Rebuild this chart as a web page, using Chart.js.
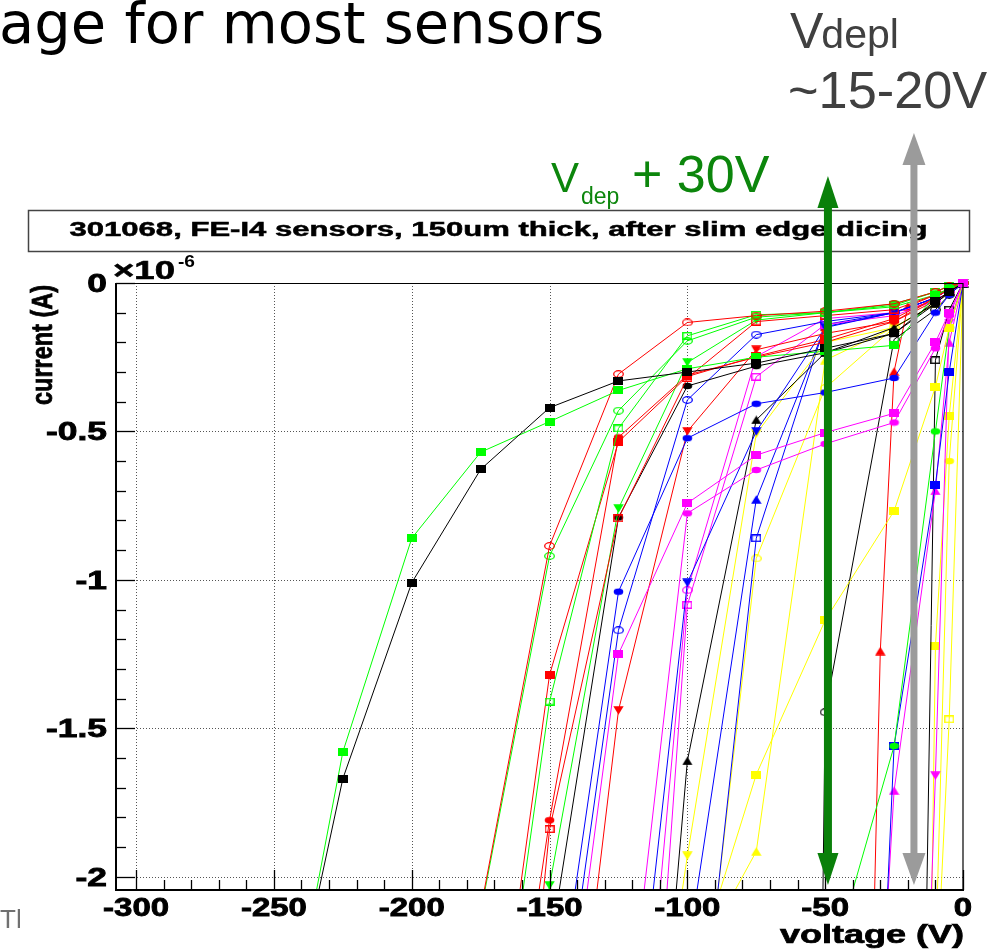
<!DOCTYPE html>
<html>
<head>
<meta charset="utf-8">
<title>301068 FE-I4 sensors IV curves</title>
<script src="https://cdn.jsdelivr.net/npm/chart.js@4/dist/chart.umd.min.js"></script>
<style>
  html, body { margin: 0; padding: 0; background: #ffffff; overflow: hidden; }
  canvas { display: block; }
</style>
</head>
<body>
<canvas id="c" width="988" height="951"></canvas>
<script>
// ---- Axis ranges and tick labels ----
const X_MIN = -307.3, X_MAX = 0;
const Y_MIN = -2.045, Y_MAX = 0;
const xTickValues = [-300, -250, -200, -150, -100, -50, 0];
const xTickLabels = ['-300', '-250', '-200', '-150', '-100', '-50', '0'];
const yTickValues = [0, -0.5, -1, -1.5, -2];
const yTickLabels = ['0', '-0.5', '-1', '-1.5', '-2'];

// ---- Bias voltages (V) ----
const vSteps = [0, -5, -10, -25, -50, -75, -100, -125, -150, -175, -200, -225, -250];
const vRedTriUp = [0, -5, -10, -20, -25, -30, -35];
const vShort = [0, -5, -10, -25, -30];
const vLate = [0, -5, -10, -15];

// ---- Leakage currents (units of 1e-6 A), one list per sensor ----
const iBlackSq          = [0, -0.03, -0.06, -0.17, -0.22, -0.27, -0.30, -0.33, -0.42, -0.628, -1.01, -1.67, -2.75];
const iGreenSq          = [0, -0.02, -0.04, -0.21, -0.23, -0.25, -0.289, -0.362, -0.467, -0.57, -0.86, -1.58, -2.8];
const iRedOpenCircle    = [0, -0.01, -0.03, -0.07, -0.095, -0.11, -0.133, -0.307, -0.886, -2.11];
const iGreenOpenCircle  = [0, -0.01, -0.03, -0.07, -0.10, -0.115, -0.195, -0.43, -0.92, -2.12];
const iGreenOpenSq      = [0, -0.01, -0.03, -0.075, -0.10, -0.107, -0.178, -0.49, -1.41, -3.06];
const iRedSq            = [0, -0.02, -0.05, -0.12, -0.19, -0.247, -0.315, -0.535, -1.32, -3.01];
const iRedCircle        = [0, -0.02, -0.05, -0.13, -0.20, -0.25, -0.31, -0.52, -1.81, -3.36];
const iRedOpenSq        = [0, -0.02, -0.04, -0.09, -0.11, -0.13, -0.32, -0.793, -1.84, -4.2];
const iGreenTriDown     = [0, -0.02, -0.04, -0.08, -0.10, -0.125, -0.268, -0.76, -2.03, -3.5];
const iBlackCircle      = [0, -0.03, -0.07, -0.17, -0.235, -0.28, -0.347, -0.79, -2.25, -3.5];
const iBlueCircle       = [0, -0.04, -0.10, -0.32, -0.369, -0.407, -0.523, -1.04, -2.64];
const iBlueOpenCircle   = [0, -0.02, -0.05, -0.10, -0.13, -0.174, -0.394, -1.17, -2.83];
const iMagentaSq        = [0, -0.10, -0.20, -0.439, -0.504, -0.58, -0.742, -1.25, -3.0];
const iMagentaCircle    = [0, -0.11, -0.22, -0.47, -0.542, -0.63, -0.776, -2.8];
const iRedTriDown       = [0, -0.03, -0.06, -0.13, -0.17, -0.225, -0.50, -1.44, -3.38];
const iBlueTriDown      = [0, -0.02, -0.05, -0.10, -0.15, -0.50, -1.01, -3.1];
const iMagentaOpenCircle= [0, -0.03, -0.06, -0.10, -0.12, -0.248, -1.035, -3.58];
const iMagentaOpenSq    = [0, -0.03, -0.06, -0.11, -0.14, -0.316, -1.085, -4.33];
const iBlackTriUp       = [0, -0.03, -0.07, -0.15, -0.235, -0.461, -1.61, -4.3];
const iYellowTriDown    = [0, -0.03, -0.07, -0.15, -0.20, -0.508, -1.93, -3.5];
const iBlueTriUp        = [0, -0.02, -0.05, -0.10, -0.147, -0.729, -2.26];
const iBlueOpenSq       = [0, -0.02, -0.05, -0.10, -0.14, -0.86, -2.99];
const iYellowOpenCircle = [0, -0.03, -0.07, -0.15, -0.354, -0.928, -2.94];
const iYellowSq         = [0, -0.15, -0.35, -0.768, -1.136, -1.656, -2.4];
const iYellowTriUp      = [0, -0.03, -0.07, -0.15, -0.26, -1.915, -2.34];
const iBlackOpenCircle  = [0, -0.04, -0.09, -0.19, -1.446, -20];
const iGreenCircle      = [0, -0.15, -0.50, -1.56, -2.37];
const iRedTriUp         = [0, -0.02, -0.04, -0.079, -0.298, -1.24, -3.2];
const iBlueSq           = [0, -0.30, -0.68, -1.56, -2.6];
const iMagentaTriUp     = [0, -0.20, -0.70, -1.71, -2.5];
const iBlackOpenSq      = [0, -0.09, -0.26, -3.14];
const iMagentaTriDown   = [0, -0.135, -1.66, -3.0];
const iYellowSqLate     = [0, -0.448, -1.224, -4.5];
const iYellowOpenSq     = [0, -1.47, -2.45];
const iYellowCircle     = [0, -0.60, -2.30];

// Voltages marked by the two arrows
const vDepPlus30 = -49;
const vDepl = -17.8;

const BLACK = '#000000', RED = '#ff0000', GREEN = '#00ff00', BLUE = '#0000ff', YELLOW = '#ffff00', MAGENTA = '#ff00ff';

// [voltages, currents, colour, marker shape, filled]; first entry is drawn on top
const seriesList = [
  [vSteps, iMagentaSq, MAGENTA, 'square', true],
  [vSteps, iBlackSq, BLACK, 'square', true],
  [vSteps, iGreenSq, GREEN, 'square', true],
  [vSteps, iRedOpenCircle, RED, 'circle', false],
  [vSteps, iGreenOpenCircle, GREEN, 'circle', false],
  [vSteps, iGreenOpenSq, GREEN, 'square', false],
  [vSteps, iRedSq, RED, 'square', true],
  [vSteps, iRedCircle, RED, 'circle', true],
  [vSteps, iRedOpenSq, RED, 'square', false],
  [vSteps, iGreenTriDown, GREEN, 'down', true],
  [vSteps, iBlackCircle, BLACK, 'circle', true],
  [vSteps, iBlueCircle, BLUE, 'circle', true],
  [vSteps, iBlueOpenCircle, BLUE, 'circle', false],
  [vSteps, iMagentaCircle, MAGENTA, 'circle', true],
  [vSteps, iRedTriDown, RED, 'down', true],
  [vSteps, iBlueTriDown, BLUE, 'down', true],
  [vSteps, iMagentaOpenCircle, MAGENTA, 'circle', false],
  [vSteps, iMagentaOpenSq, MAGENTA, 'square', false],
  [vSteps, iBlackTriUp, BLACK, 'up', true],
  [vSteps, iYellowTriDown, YELLOW, 'down', true],
  [vSteps, iBlueTriUp, BLUE, 'up', true],
  [vSteps, iBlueOpenSq, BLUE, 'square', false],
  [vSteps, iYellowOpenCircle, YELLOW, 'circle', false],
  [vSteps, iYellowSq, YELLOW, 'square', true],
  [vSteps, iYellowTriUp, YELLOW, 'up', true],
  [vSteps, iBlackOpenCircle, BLACK, 'circle', false],
  [vSteps, iGreenCircle, GREEN, 'circle', true],
  [vRedTriUp, iRedTriUp, RED, 'up', true],
  [vShort, iBlueSq, BLUE, 'square', true],
  [vShort, iMagentaTriUp, MAGENTA, 'up', true],
  [vLate, iBlackOpenSq, BLACK, 'square', false],
  [vLate, iMagentaTriDown, MAGENTA, 'down', true],
  [vLate, iYellowSqLate, YELLOW, 'square', true],
  [vLate, iYellowOpenSq, YELLOW, 'square', false],
  [vLate, iYellowCircle, YELLOW, 'circle', true]
];

// Small marker bitmaps (slightly wider than tall)
function makeMarker(shape, color, filled) {
  const dims = { square: [10, 8], circle: [11, 8], up: [11, 9], down: [11, 9] }[shape];
  const w = dims[0], h = dims[1];
  const c = document.createElement('canvas');
  c.width = w; c.height = h;
  const g = c.getContext('2d');
  g.fillStyle = color; g.strokeStyle = color; g.lineWidth = 1.3;
  g.beginPath();
  if (shape === 'square') {
    if (filled) g.rect(0, 0, w, h); else g.rect(0.75, 0.75, w - 1.5, h - 1.5);
  } else if (shape === 'circle') {
    g.ellipse(w / 2, h / 2, w / 2 - 0.7, h / 2 - 0.7, 0, 0, Math.PI * 2);
  } else if (shape === 'up') {
    g.moveTo(w / 2, 0.3); g.lineTo(w - 0.3, h - 0.3); g.lineTo(0.3, h - 0.3); g.closePath();
  } else {
    g.moveTo(0.3, 0.3); g.lineTo(w - 0.3, 0.3); g.lineTo(w / 2, h - 0.3); g.closePath();
  }
  if (filled) g.fill(); else g.stroke();
  return c;
}

const datasets = seriesList.map(([v, cur, color, shape, filled]) => ({
  data: cur.map((val, k) => ({ x: v[k], y: val })),
  showLine: true,
  borderColor: color,
  backgroundColor: color,
  borderWidth: 1,
  tension: 0,
  pointStyle: makeMarker(shape, color, filled),
  pointRadius: 5,
  pointHoverRadius: 5,
  clip: { left: 12, top: 12, right: 12, bottom: 0 }
}));

// Text drawn with a horizontal stretch so that it spans a given width
function fitText(ctx, str, x, y, font, width, align, heavy) {
  ctx.save();
  ctx.font = font;
  const natural = ctx.measureText(str).width;
  const sx = width / natural;
  let x0 = x;
  if (align === 'center') x0 = x - width / 2;
  else if (align === 'right') x0 = x - width;
  ctx.translate(x0, y);
  ctx.scale(sx, 1);
  ctx.textAlign = 'left';
  ctx.textBaseline = 'alphabetic';
  ctx.fillText(str, 0, 0);
  if (heavy) { ctx.lineWidth = heavy; ctx.strokeStyle = ctx.fillStyle; ctx.strokeText(str, 0, 0); }
  ctx.restore();
}

function stretchedText(ctx, str, x, y, font, sx, align, heavy) {
  ctx.save();
  ctx.font = font;
  const w = ctx.measureText(str).width * sx;
  let x0 = x;
  if (align === 'center') x0 = x - w / 2;
  else if (align === 'right') x0 = x - w;
  ctx.translate(x0, y);
  ctx.scale(sx, 1);
  ctx.textAlign = 'left';
  ctx.textBaseline = 'alphabetic';
  ctx.fillText(str, 0, 0);
  if (heavy) { ctx.lineWidth = heavy; ctx.strokeStyle = ctx.fillStyle; ctx.strokeText(str, 0, 0); }
  ctx.restore();
}

function seg(ctx, x1, y1, x2, y2) {
  ctx.beginPath(); ctx.moveTo(x1, y1); ctx.lineTo(x2, y2); ctx.stroke();
}

function doubleArrow(ctx, cx, tipTop, tipBottom, shaft, headLen, headHalf, color) {
  ctx.save();
  ctx.fillStyle = color;
  ctx.fillRect(cx - shaft / 2, tipTop + headLen - 1, shaft, (tipBottom - headLen) - (tipTop + headLen) + 2);
  ctx.beginPath();
  ctx.moveTo(cx, tipTop); ctx.lineTo(cx + headHalf, tipTop + headLen); ctx.lineTo(cx - headHalf, tipTop + headLen); ctx.closePath();
  ctx.fill();
  ctx.beginPath();
  ctx.moveTo(cx, tipBottom); ctx.lineTo(cx + headHalf, tipBottom - headLen); ctx.lineTo(cx - headHalf, tipBottom - headLen); ctx.closePath();
  ctx.fill();
  ctx.restore();
}

const CHART_FONT = '"Liberation Sans", Arial, Helvetica, sans-serif';

const rootFrame = {
  id: 'rootFrame',
  beforeDatasetsDraw(chart) {
    const { ctx, chartArea: a, scales: { x, y } } = chart;
    ctx.save();
    ctx.strokeStyle = '#555555';
    ctx.lineWidth = 1;
    ctx.setLineDash([1, 2]);
    xTickValues.forEach(v => {
      if (v === 0) return;
      const px = Math.round(x.getPixelForValue(v)) + 0.5;
      seg(ctx, px, a.top, px, a.bottom);
    });
    yTickValues.forEach(v => {
      if (v === 0) return;
      const py = Math.round(y.getPixelForValue(v)) + 0.5;
      seg(ctx, a.left, py, a.right, py);
    });
    ctx.restore();
  },
  afterDatasetsDraw(chart) {
    const { ctx, chartArea: a, scales: { x, y } } = chart;
    ctx.save();
    // frame
    ctx.strokeStyle = '#000000';
    ctx.lineWidth = 1.2;
    seg(ctx, a.left, a.top + 0.5, a.right, a.top + 0.5);
    seg(ctx, a.right, a.top, a.right, a.bottom);
    ctx.lineWidth = 2;
    seg(ctx, a.left, a.top, a.left, a.bottom + 1);
    seg(ctx, a.left - 1, a.bottom, a.right + 1, a.bottom);

    // tick marks, drawn inside the frame
    ctx.lineWidth = 1.3;
    for (let k = 0; k <= 30; k++) {
      const v = -300 + k * 10;
      const px = Math.round(x.getPixelForValue(v)) + 0.5;
      const len = (v % 50 === 0) ? 20 : 10;
      seg(ctx, px, a.bottom, px, a.bottom - len);
    }
    for (let k = 0; k <= 20; k++) {
      const v = -k * 0.1;
      const py = Math.round(y.getPixelForValue(v)) + 0.5;
      const len = (k % 5 === 0) ? 19 : 10;
      seg(ctx, a.left, py, a.left + len, py);
    }

    // tick labels
    ctx.fillStyle = '#000000';
    const tickFont = 'bold 25px ' + CHART_FONT;
    ctx.font = tickFont;
    const sy = 61 / ctx.measureText('-0.5').width;
    yTickValues.forEach((v, k) => {
      stretchedText(ctx, yTickLabels[k], 107, y.getPixelForValue(v) + 9, tickFont, sy, 'right', 0.8);
    });
    const sxl = 66 / ctx.measureText('-300').width;
    xTickValues.forEach((v, k) => {
      stretchedText(ctx, xTickLabels[k], x.getPixelForValue(v), 916, tickFont, sxl, 'center', 0.8);
    });

    // axis titles
    fitText(ctx, 'voltage (V)', 964, 943, 'bold 25px ' + CHART_FONT, 184, 'right', 0.7);
    ctx.save();
    ctx.font = 'bold 23px ' + CHART_FONT;
    ctx.translate(52, 285);
    ctx.scale(1.3, 1);
    ctx.rotate(-Math.PI / 2);
    ctx.textAlign = 'right';
    ctx.textBaseline = 'alphabetic';
    const tw = ctx.measureText('current (A)').width;
    ctx.scale(120 / tw, 1);
    ctx.fillText('current (A)', 0, 0);
    ctx.lineWidth = 0.6; ctx.strokeStyle = '#000000';
    ctx.strokeText('current (A)', 0, 0);
    ctx.restore();

    // exponent of the current axis
    fitText(ctx, '\u00d710', 113, 279, 'bold 26px ' + CHART_FONT, 62, 'left', 0.6);
    fitText(ctx, '-6', 178, 267, 'bold 17px ' + CHART_FONT, 17, 'left');
    ctx.restore();
  },
  afterDraw(chart) {
    const { ctx, scales: { x } } = chart;
    ctx.save();

    // slide heading
    ctx.fillStyle = '#000000';
    ctx.font = '54px "DejaVu Sans", sans-serif';
    const hw = ctx.measureText('age for most sensors').width;
    const hs = 54 * 605 / hw;
    ctx.font = hs.toFixed(1) + 'px "DejaVu Sans", sans-serif';
    ctx.textAlign = 'left';
    ctx.textBaseline = 'alphabetic';
    ctx.fillText('age for most sensors', -1, 43);

    // slide footer fragment
    ctx.save();
    ctx.beginPath(); ctx.rect(0, 890, 20, 61); ctx.clip();
    ctx.fillStyle = '#707070';
    ctx.font = '26px ' + CHART_FONT;
    ctx.fillText('Th', 0, 928);
    ctx.restore();

    // depletion voltage note
    ctx.fillStyle = '#404040';
    ctx.font = '50px ' + CHART_FONT;
    ctx.fillText('V', 790, 48);
    const vw = ctx.measureText('V').width;
    ctx.font = '41px ' + CHART_FONT;
    ctx.fillText('depl', 790 + vw - 2, 48);
    ctx.font = '55px ' + CHART_FONT;
    const rw = ctx.measureText('~15-20V').width;
    ctx.font = (55 * 199 / rw).toFixed(1) + 'px ' + CHART_FONT;
    ctx.fillText('~15-20V', 788, 108);

    // operating voltage note
    ctx.fillStyle = '#0c860c';
    ctx.font = '42px ' + CHART_FONT;
    ctx.fillText('V', 551, 192);
    ctx.font = '23px ' + CHART_FONT;
    ctx.fillText('dep', 581, 204);
    ctx.font = '52px ' + CHART_FONT;
    ctx.fillText('+ 30V', 632, 192);

    // title box
    ctx.fillStyle = '#ffffff';
    ctx.fillRect(28, 210, 941, 41);
    ctx.strokeStyle = '#444444';
    ctx.lineWidth = 1.5;
    ctx.strokeRect(28.5, 210.5, 941, 41);
    ctx.fillStyle = '#000000';
    fitText(ctx, '301068, FE-I4 sensors, 150um thick, after slim edge dicing', 498.5, 236,
      'bold 20px ' + CHART_FONT, 858, 'center', 0.5);

    // arrows
    doubleArrow(ctx, x.getPixelForValue(vDepl), 133, 885, 7, 32, 11.5, '#9b9b9b');
    doubleArrow(ctx, x.getPixelForValue(vDepPlus30), 176, 885, 8, 32, 10.5, '#0a800a');
    ctx.restore();
  }
};

new Chart(document.getElementById('c').getContext('2d'), {
  type: 'scatter',
  data: { datasets },
  options: {
    responsive: false,
    animation: false,
    events: [],
    layout: { padding: { left: 0, top: 283, right: 25, bottom: 0 } },
    plugins: {
      legend: { display: false },
      tooltip: { enabled: false },
      title: { display: false }
    },
    scales: {
      x: {
        type: 'linear', min: X_MIN, max: X_MAX,
        grid: { display: false }, border: { display: false },
        ticks: { display: false },
        afterFit: s => { s.height = 61; }
      },
      y: {
        type: 'linear', min: Y_MIN, max: Y_MAX,
        grid: { display: false }, border: { display: false },
        ticks: { display: false },
        afterFit: s => { s.width = 116; }
      }
    }
  },
  plugins: [rootFrame]
});
</script>
</body>
</html>
